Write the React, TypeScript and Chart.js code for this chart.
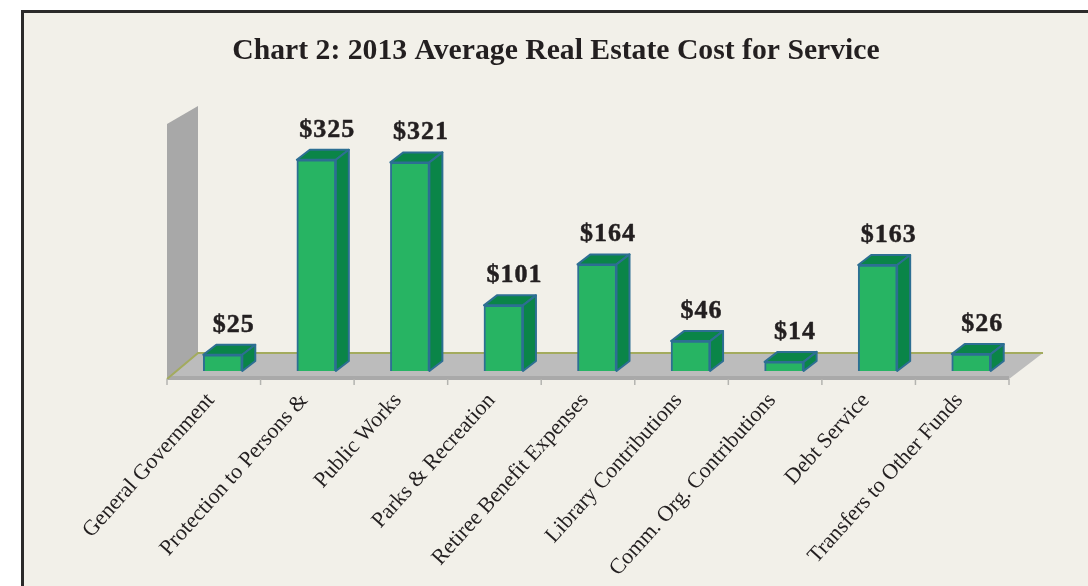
import React, { useEffect, useRef } from "react";
import { Chart, registerables } from "chart.js";

Chart.register(...registerables);

const categories = [
  "General Government",
  "Protection to Persons &",
  "Public Works",
  "Parks & Recreation",
  "Retiree Benefit Expenses",
  "Library Contributions",
  "Comm. Org. Contributions",
  "Debt Service",
  "Transfers to Other Funds",
];
const values = [25, 325, 321, 101, 164, 46, 14, 163, 26];
const valueLabels = ["$25", "$325", "$321", "$101", "$164", "$46", "$14", "$163", "$26"];
const titleText = "Chart 2: 2013 Average Real Estate Cost for Service";

const SERIF = '"Liberation Serif", serif';
const DX = 13;
const DY = 10;
const BG = "#f2f0e9";

const scene = {
  id: "scene",
  beforeDraw(chart: any) {
    const { ctx, width, height, scales } = chart;
    const x = scales.x;
    const y = scales.y;
    const base = y.getPixelForValue(0);
    const left = x.left - 9;
    const right = x.right - 9;
    const wallTop = y.top;
    ctx.save();
    ctx.fillStyle = "#ffffff";
    ctx.fillRect(0, 0, width, height);
    ctx.fillStyle = BG;
    ctx.fillRect(21, 10, width - 21, height - 10);
    ctx.fillStyle = "#2b2a2a";
    ctx.fillRect(21, 10, 3, height - 10);
    ctx.fillRect(21, 10, width - 21, 3);

    // wall
    ctx.fillStyle = "#a8a8a8";
    ctx.beginPath();
    ctx.moveTo(left, wallTop);
    ctx.lineTo(left + 31, wallTop - 18);
    ctx.lineTo(left + 31, base - 18);
    ctx.lineTo(left, base + 9);
    ctx.closePath();
    ctx.fill();

    // floor
    ctx.fillStyle = "#bcbcbc";
    ctx.beginPath();
    ctx.moveTo(left + 31, base - 18);
    ctx.lineTo(right + 34, base - 18);
    ctx.lineTo(right, base + 8);
    ctx.lineTo(left, base + 8);
    ctx.closePath();
    ctx.fill();
    ctx.fillStyle = "#a9a9a9";
    ctx.fillRect(left, base + 5, right - left, 4);
    ctx.strokeStyle = "#a3ab5e";
    ctx.lineWidth = 2;
    ctx.beginPath();
    ctx.moveTo(left, base + 8);
    ctx.lineTo(left + 31, base - 18);
    ctx.lineTo(right + 34, base - 18);
    ctx.stroke();

    // ticks
    ctx.strokeStyle = "#b4b4b0";
    ctx.lineWidth = 1.5;
    const step = (right - left) / categories.length;
    for (let i = 0; i <= categories.length; i++) {
      const px = left + i * step;
      ctx.beginPath();
      ctx.moveTo(px, base + 8);
      ctx.lineTo(px, base + 14);
      ctx.stroke();
    }
    ctx.restore();
  },
  afterDatasetsDraw(chart: any) {
    const { ctx } = chart;
    const meta = chart.getDatasetMeta(0);
    ctx.save();
    meta.data.forEach((bar: any, i: number) => {
      const w = bar.width;
      const l = bar.x - w / 2;
      const r = bar.x + w / 2;
      const t = bar.y;
      const b = bar.base;
      ctx.lineWidth = 2;
      ctx.strokeStyle = "#2d6f93";
      ctx.lineJoin = "round";
      ctx.fillStyle = "#0a8548";
      ctx.beginPath();
      ctx.moveTo(l, t);
      ctx.lineTo(l + DX, t - DY);
      ctx.lineTo(r + DX, t - DY);
      ctx.lineTo(r, t);
      ctx.closePath();
      ctx.fill();
      ctx.stroke();
      ctx.beginPath();
      ctx.moveTo(r, t);
      ctx.lineTo(r + DX, t - DY);
      ctx.lineTo(r + DX, b - DY);
      ctx.lineTo(r, b);
      ctx.closePath();
      ctx.fill();
      ctx.stroke();

      ctx.fillStyle = "#231f20";
      ctx.strokeStyle = "#231f20";
      ctx.lineWidth = 0.5;
      ctx.font = `bold 26px ${SERIF}`;
      ctx.textAlign = "center";
      ctx.textBaseline = "alphabetic";
      (ctx as any).letterSpacing = "1px";
      ctx.fillText(valueLabels[i], bar.x + 11, t - 23);
      ctx.strokeText(valueLabels[i], bar.x + 11, t - 23);
    });
    ctx.restore();
  },
};

export default function App() {
  const ref = useRef<HTMLCanvasElement>(null);
  useEffect(() => {
    const chart = new Chart(ref.current as HTMLCanvasElement, {
      type: "bar",
      data: {
        labels: categories,
        datasets: [
          {
            data: values,
            backgroundColor: "#27b463",
            borderColor: "#2d6f93",
            borderWidth: 2,
            barThickness: 39,
          },
        ],
      },
      plugins: [scene],
      options: {
        animation: false,
        responsive: false,
        layout: { padding: { left: 94, right: 70, top: 0, bottom: 0 } },
        plugins: {
          legend: { display: false },
          tooltip: { enabled: false },
          title: {
            display: true,
            text: titleText,
            color: "#231f20",
            font: { family: SERIF, size: 29.7, weight: "bold", lineHeight: 1.2 },
            padding: { top: 34, bottom: 54.4 },
          },
        },
        scales: {
          x: {
            grid: { display: false },
            border: { display: false },
            ticks: {
              autoSkip: false,
              minRotation: 48,
              maxRotation: 48,
              color: "#231f20",
              font: { family: SERIF, size: 22 },
              padding: 9,
              labelOffset: -12,
            },
            afterFit: (s: any) => {
              s.height = 215;
            },
          },
          y: {
            min: 0,
            max: 380,
            grid: { display: false },
            border: { display: false },
            ticks: { display: false },
            afterFit: (s: any) => {
              s.width = 82;
            },
          },
        },
      } as any,
    });
    return () => chart.destroy();
  }, []);
  return (
    <canvas
      ref={ref}
      width={1088}
      height={586}
      style={{ position: "absolute", left: 0, top: 0, display: "block", filter: "blur(0.5px)" }}
    />
  );
}
